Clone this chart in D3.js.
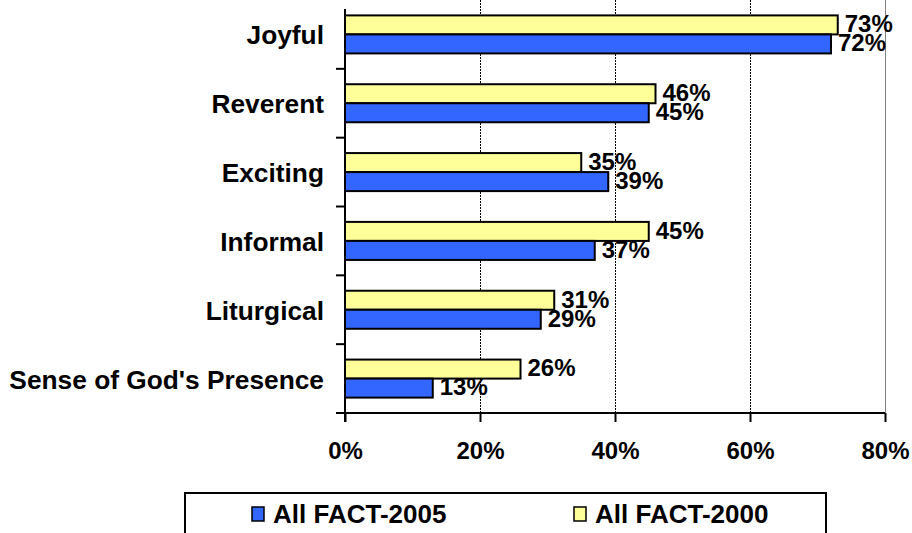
<!DOCTYPE html>
<html>
<head>
<meta charset="utf-8">
<script src="https://d3js.org/d3.v7.min.js"></script>
<style>
  body { margin: 0; background: #fff; }
  text { font-family: "Liberation Sans", Arial, sans-serif; font-weight: bold; fill: #000; }
</style>
</head>
<body>
<div id="chart"></div>
<script>
// data
var categories = ["Joyful", "Reverent", "Exciting", "Informal", "Liturgical", "Sense of God's Presence"]
var fact2000 = [73, 46, 35, 45, 31, 26]
var fact2005 = [72, 45, 39, 37, 29, 13]
var seriesNames = ["All FACT-2000", "All FACT-2005"]
var xTicks = [0, 20, 40, 60, 80]

var colors = {"All FACT-2000": "#FFFF99", "All FACT-2005": "#3366FF"}

var margin = {top: 0, left: 345},
    width = 540,
    height = 413

var svg = d3.select("#chart").append("svg")
    .attr("width", 912)
    .attr("height", 533)

var g = svg.append("g")
    .attr("transform", "translate(" + margin.left + "," + margin.top + ")")

var x = d3.scaleLinear().domain([0, 80]).range([0, width])

var y0 = d3.scaleBand().domain(categories).range([0, height]).padding(0)
var y1 = d3.scaleBand().domain(seriesNames)
    .range([0, y0.bandwidth()])
    .paddingInner(0).paddingOuter(0.81)

// gridlines
g.selectAll(".grid")
  .data([20, 40, 60])
  .enter().append("line")
    .attr("x1", function(d){ return x(d) + 0.5 })
    .attr("x2", function(d){ return x(d) + 0.5 })
    .attr("y1", 0).attr("y2", height)
    .attr("stroke", "#000")
    .attr("stroke-width", 1)
    .attr("stroke-dasharray", "2,1")

// right border of plot area
g.append("line")
  .attr("x1", x(80) + 0.5).attr("x2", x(80) + 0.5)
  .attr("y1", 0).attr("y2", height)
  .attr("stroke", "#808080").attr("stroke-width", 1)

var rows = categories.map(function(c, i){
  return {cat: c, vals: [
    {name: "All FACT-2000", v: fact2000[i]},
    {name: "All FACT-2005", v: fact2005[i]}
  ]}
})

var grp = g.selectAll(".cat")
  .data(rows)
  .enter().append("g")
    .attr("transform", function(d){ return "translate(0," + y0(d.cat) + ")" })

grp.selectAll("rect")
  .data(function(d){ return d.vals })
  .enter().append("rect")
    .attr("x", x(0))
    .attr("y", function(d){ return y1(d.name) })
    .attr("width", function(d){ return x(d.v) - x(0) })
    .attr("height", y1.bandwidth())
    .attr("fill", function(d){ return colors[d.name] })
    .attr("stroke", "#000")
    .attr("stroke-width", 2)

// value labels (they overlap a little in the original too)
grp.selectAll(".lbl")
  .data(function(d){ return d.vals })
  .enter().append("text")
    .attr("class", "lbl")
    .attr("x", function(d){ return x(d.v) + 7 })
    .attr("y", function(d){ return y1(d.name) + y1.bandwidth() / 2 - 1 })
    .attr("dy", "0.35em")
    .attr("font-size", 24)
    .text(function(d){ return d.v + "%" })

// y axis
var yAxis = g.append("g")
  .call(d3.axisLeft(y0).tickSize(0).tickPadding(21))
yAxis.select(".domain").remove()
yAxis.selectAll("text")
  .attr("font-size", 26.3)
  .attr("dy", "0.38em")
  .style("font-family", "Liberation Sans, Arial, sans-serif")
  .style("font-weight", "bold")

g.append("line")
  .attr("x1", 0).attr("x2", 0)
  .attr("y1", 9).attr("y2", height + 9)
  .attr("stroke", "#000").attr("stroke-width", 2)

// category separator ticks
g.selectAll(".ytick")
  .data(categories.slice(1).concat(["end"]))
  .enter().append("line")
    .attr("x1", -9).attr("x2", 0)
    .attr("y1", function(d, i){ return y0.step() * (i + 1) })
    .attr("y2", function(d, i){ return y0.step() * (i + 1) })
    .attr("stroke", "#000").attr("stroke-width", 2)

// x axis
var xAxis = g.append("g")
  .attr("transform", "translate(0," + height + ")")
  .call(d3.axisBottom(x).tickValues(xTicks).tickSize(9).tickPadding(20)
    .tickFormat(function(d){ return d + "%" }))
xAxis.select(".domain").attr("stroke-width", 2).attr("d", "M0,0H" + width)
xAxis.selectAll("line").attr("stroke-width", 2)
xAxis.selectAll("text")
  .attr("font-size", 24)
  .style("font-family", "Liberation Sans, Arial, sans-serif")
  .style("font-weight", "bold")

// legend
var legend = svg.append("g").attr("transform", "translate(185,493)")
legend.append("rect")
  .attr("x", 0).attr("y", 0)
  .attr("width", 641).attr("height", 60)
  .attr("fill", "#fff").attr("stroke", "#000").attr("stroke-width", 2)

var legendItems = [
  {name: "All FACT-2005", x: 67},
  {name: "All FACT-2000", x: 389}
]
var li = legend.selectAll(".li")
  .data(legendItems)
  .enter().append("g")
    .attr("transform", function(d){ return "translate(" + d.x + ",14)" })
li.append("rect")
  .attr("width", 12).attr("height", 14)
  .attr("fill", function(d){ return colors[d.name] })
  .attr("stroke", "#000").attr("stroke-width", 1.5)
li.append("text")
  .attr("x", 21).attr("y", 16)
  .attr("font-size", 26)
  .text(function(d){ return d.name })
</script>
</body>
</html>
